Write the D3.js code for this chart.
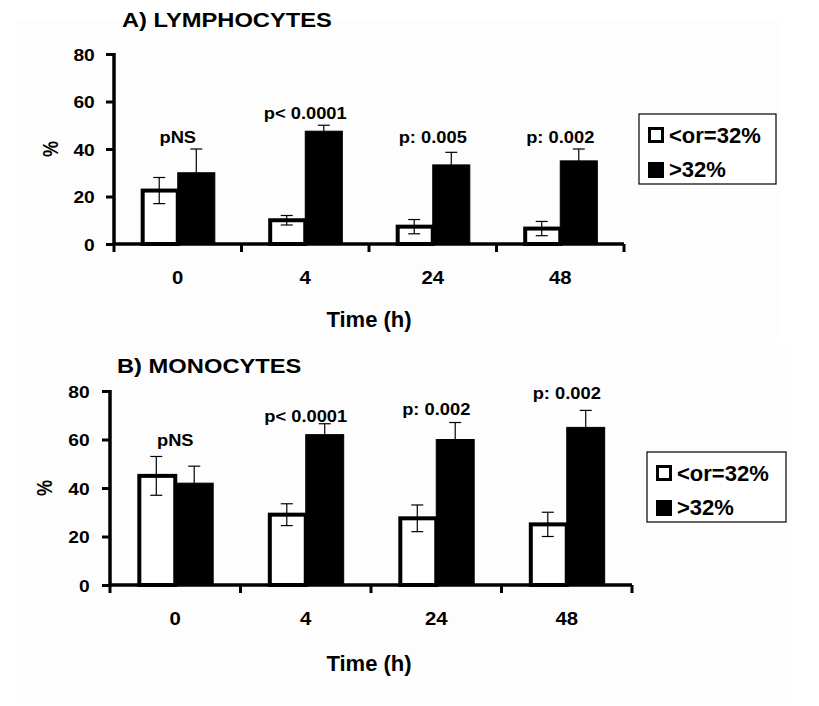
<!DOCTYPE html>
<html>
<head>
<meta charset="utf-8">
<script src="https://cdn.jsdelivr.net/npm/d3@7"></script>
<style>
  body { margin: 0; background: #fff; }
  svg text { font-family: "Liberation Sans", Arial, sans-serif; font-weight: bold; fill: #000; }
</style>
</head>
<body>
<div id="chart"></div>
<script>
var TIMES = ["0", "4", "24", "48"],
    SERIES = ["<or=32%", ">32%"],
    Y_TICKS = [0, 20, 40, 60, 80];

// A) lymphocytes
var lymphLow = [22.5, 10, 7.3, 6.5],
    lymphLowErr = [5.5, 2, 3, 3],
    lymphHigh = [30, 47.5, 33.3, 35],
    lymphHighErr = [10, 2.5, 5.3, 5],
    lymphP = ["pNS", "p< 0.0001", "p: 0.005", "p: 0.002"],
    lymphPY = [42.6, 52.5, 42.6, 42.6];

// B) monocytes
var monoLow = [45, 29, 27.5, 25],
    monoLowErr = [8, 4.5, 5.5, 5],
    monoHigh = [42, 62, 60, 65],
    monoHighErr = [7, 4.5, 7, 7],
    monoP = ["pNS", "p< 0.0001", "p: 0.002", "p: 0.002"],
    monoPY = [57.3, 67.3, 70.1, 76.7];

var W = 819, H = 706;
var svg = d3.select("#chart").append("svg")
    .attr("width", W)
    .attr("height", H);

svg.append("rect").attr("width", W).attr("height", H).attr("fill", "#fff");

// the source picture is a bit stretched sideways, so some texts get an x scale
function place(sel, x, y, sx) {
  return sel.attr("transform", "translate(" + x + "," + y + ") scale(" + sx + ",1)");
}

function drawPanel(cfg) {
  var g = svg.append("g");

  g.append("rect")
    .attr("x", cfg.bg[0]).attr("y", cfg.bg[1])
    .attr("width", cfg.bg[2]).attr("height", cfg.bg[3])
    .attr("fill", "#fdfdfd");

  var x0 = d3.scaleBand().domain(TIMES).range([cfg.left, cfg.right]).paddingInner(0).paddingOuter(0);
  var x1 = d3.scaleBand().domain(SERIES).range([0, x0.bandwidth()]).paddingInner(0).paddingOuter(0.72);
  var y = d3.scaleLinear().domain([0, 80]).range([cfg.bottom, cfg.top]);

  var rows = TIMES.map(function(t, i) {
    return {
      time: t,
      bars: [
        {key: SERIES[0], value: cfg.low[i], err: cfg.lowErr[i]},
        {key: SERIES[1], value: cfg.high[i], err: cfg.highErr[i]}
      ],
      p: cfg.p[i],
      py: cfg.py[i]
    };
  });

  // title
  place(g.append("text"), cfg.titleX, cfg.titleY, 1.13)
    .style("font-size", "21px")
    .text(cfg.title);

  var grp = g.selectAll(".grp")
    .data(rows)
    .enter().append("g")
    .attr("class", "grp")
    .attr("transform", function(d) { return "translate(" + x0(d.time) + ",0)"; });

  grp.selectAll("rect")
    .data(function(d) { return d.bars; })
    .enter().append("rect")
    .attr("x", function(d) { return x1(d.key) + (d.key == SERIES[0] ? 2 : 0); })
    .attr("y", function(d) { return y(d.value); })
    .attr("width", function(d) { return x1.bandwidth() - (d.key == SERIES[0] ? 2 : 0); })
    .attr("height", function(d) { return y(0) - y(d.value); })
    .attr("fill", function(d) { return d.key == SERIES[0] ? "#fff" : "#000"; })
    .attr("stroke", "#000")
    .attr("stroke-width", function(d) { return d.key == SERIES[0] ? 4 : 1; });

  // error bars
  var eb = grp.selectAll(".err")
    .data(function(d) { return d.bars; })
    .enter().append("g")
    .attr("class", "err")
    .attr("stroke", "#000")
    .attr("stroke-width", 1.2);
  eb.append("line")
    .attr("x1", function(d) { return x1(d.key) + x1.bandwidth() / 2; })
    .attr("x2", function(d) { return x1(d.key) + x1.bandwidth() / 2; })
    .attr("y1", function(d) { return y(d.value - d.err); })
    .attr("y2", function(d) { return y(d.value + d.err); });
  eb.append("line")
    .attr("x1", function(d) { return x1(d.key) + x1.bandwidth() / 2 - 6; })
    .attr("x2", function(d) { return x1(d.key) + x1.bandwidth() / 2 + 6; })
    .attr("y1", function(d) { return y(d.value + d.err); })
    .attr("y2", function(d) { return y(d.value + d.err); });
  eb.append("line")
    .attr("x1", function(d) { return x1(d.key) + x1.bandwidth() / 2 - 6; })
    .attr("x2", function(d) { return x1(d.key) + x1.bandwidth() / 2 + 6; })
    .attr("y1", function(d) { return y(d.value - d.err); })
    .attr("y2", function(d) { return y(d.value - d.err); });

  // p-values
  grp.append("text")
    .attr("transform", function(d) { return "translate(" + (x0.bandwidth() / 2) + "," + y(d.py) + ") scale(1.11,1)"; })
    .attr("text-anchor", "middle")
    .style("font-size", "16.5px")
    .text(function(d) { return d.p; });

  // y axis
  var yAxis = d3.axisLeft(y).tickValues(Y_TICKS).tickSize(8).tickPadding(cfg.tickPad);
  var ya = g.append("g")
    .attr("transform", "translate(" + cfg.left + ",0)")
    .call(yAxis);
  ya.select(".domain").attr("stroke-width", 3.5).attr("d", "M0," + (cfg.bottom + 1) + "V" + (cfg.top - 1));
  ya.selectAll(".tick line").attr("stroke-width", 3);
  ya.selectAll(".tick text")
    .style("font-size", "17px")
    .attr("dy", "0.36em")
    .attr("transform", "scale(1.13,1)");

  // x axis: ticks at band edges, labels at band centres
  var xa = g.append("g");
  xa.append("line")
    .attr("x1", cfg.left).attr("x2", cfg.right)
    .attr("y1", cfg.bottom).attr("y2", cfg.bottom)
    .attr("stroke", "#000").attr("stroke-width", 3.5);
  var edges = TIMES.map(function(t) { return x0(t); }).concat([cfg.right]);
  xa.selectAll(".xt")
    .data(edges)
    .enter().append("line")
    .attr("x1", function(d) { return d; }).attr("x2", function(d) { return d; })
    .attr("y1", cfg.bottom).attr("y2", cfg.bottom + 8)
    .attr("stroke", "#000").attr("stroke-width", 3);
  xa.selectAll(".xl")
    .data(TIMES)
    .enter().append("text")
    .attr("transform", function(d) { return "translate(" + (x0(d) + x0.bandwidth() / 2) + "," + (cfg.bottom + 40) + ") scale(1.1,1)"; })
    .attr("text-anchor", "middle")
    .style("font-size", "18.5px")
    .text(function(d) { return d; });

  g.append("text")
    .attr("x", 369)
    .attr("y", cfg.timeY)
    .attr("text-anchor", "middle")
    .style("font-size", "22px")
    .text("Time (h)");

  g.append("text")
    .attr("transform", "translate(" + cfg.yLabelX + "," + y(40) + ") rotate(-90) scale(1,1.2)")
    .attr("text-anchor", "middle")
    .style("font-size", "18px")
    .text("%");

  // legend
  var lg = g.append("g").attr("transform", "translate(" + cfg.legX + "," + cfg.legY + ")");
  lg.append("rect")
    .attr("width", cfg.legW).attr("height", 70)
    .attr("fill", "#fff").attr("stroke", "#000").attr("stroke-width", 1.2);
  SERIES.forEach(function(s, i) {
    lg.append("rect")
      .attr("x", 9 + (i == 0 ? 1.5 : 0)).attr("y", 13 + i * 35 + (i == 0 ? 1.5 : 0))
      .attr("width", i == 0 ? 13 : 16).attr("height", i == 0 ? 13 : 16)
      .attr("fill", i == 0 ? "#fff" : "#000")
      .attr("stroke", "#000").attr("stroke-width", i == 0 ? 3 : 0);
    lg.append("text")
      .attr("x", 30).attr("y", 29 + i * 34)
      .style("font-size", "22px")
      .text(s);
  });
}

drawPanel({
  title: "A) LYMPHOCYTES", titleX: 122, titleY: 27,
  left: 114, right: 624, top: 54, bottom: 244, timeY: 327,
  low: lymphLow, lowErr: lymphLowErr, high: lymphHigh, highErr: lymphHighErr,
  p: lymphP, py: lymphPY,
  tickPad: 9, yLabelX: 58,
  legX: 639, legY: 114, legW: 137,
  bg: [15, 20, 765, 318]
});

drawPanel({
  title: "B) MONOCYTES", titleX: 117, titleY: 373,
  left: 110, right: 632, top: 391, bottom: 585, timeY: 671,
  low: monoLow, lowErr: monoLowErr, high: monoHigh, highErr: monoHighErr,
  p: monoP, py: monoPY,
  tickPad: 10, yLabelX: 52,
  legX: 647, legY: 452, legW: 139,
  bg: [15, 350, 778, 352]
});
</script>
</body>
</html>
